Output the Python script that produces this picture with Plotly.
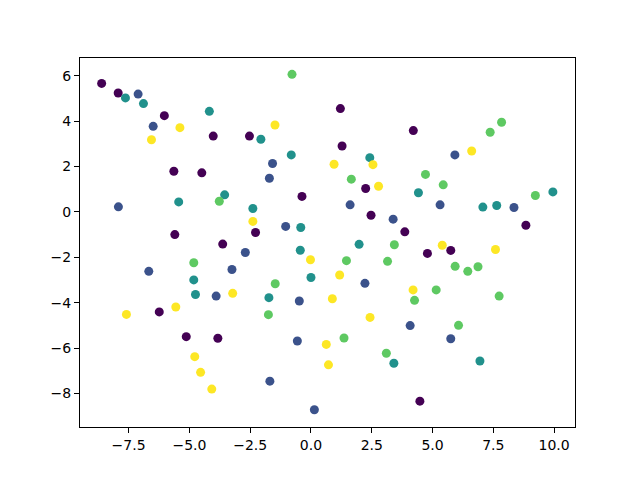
import plotly.graph_objects as go

# class 0 (purple), 1 (blue), 2 (teal), 3 (green), 4 (yellow)
x0 = [-8.61, -7.93, -6.03, -4.02, -2.53, -5.64, -4.49, -5.6, -3.63, 1.21, 1.28, 4.21, 2.25, -0.37, 2.47, 3.86, -2.28, 8.84, -6.24, -5.13, -3.83, 4.79, 5.75, 4.48]
y0 = [5.66, 5.24, 4.24, 3.34, 3.34, 1.79, 1.72, -1.0, -1.42, 4.55, 2.90, 3.58, 1.03, 0.68, -0.15, -0.88, -0.91, -0.59, -4.41, -5.50, -5.57, -1.83, -1.70, -8.34]

x1 = [-7.11, -6.49, -7.92, -1.58, -1.71, 1.61, 3.38, -1.04, 5.92, 5.31, 8.35, -2.70, -6.67, -3.25, -3.90, 2.22, -0.48, 4.08, -0.56, -1.69, 0.14, 5.75]
y1 = [5.19, 3.77, 0.22, 2.13, 1.48, 0.31, -0.32, -0.64, 2.51, 0.31, 0.19, -1.79, -2.62, -2.54, -3.71, -3.15, -3.93, -5.01, -5.69, -7.46, -8.72, -5.59]

x2 = [-7.63, -6.89, -4.18, -3.55, -5.44, -2.39, -2.06, -0.81, 2.42, 4.42, -0.42, 1.98, 7.07, 7.64, 9.95, -4.82, -4.75, -0.44, 0.0, -1.73, 3.41, 6.95]
y2 = [5.02, 4.77, 4.43, 0.75, 0.44, 0.15, 3.20, 2.51, 2.39, 0.84, -0.69, -1.43, 0.21, 0.28, 0.88, -3.00, -3.64, -1.69, -2.89, -3.78, -6.67, -6.57]

x3 = [-3.77, -0.78, 1.66, 3.43, 7.84, 7.37, 4.71, 5.44, 9.23, -4.82, 1.46, 3.15, -1.47, 4.26, -1.75, 1.36, 3.10, 5.93, 6.45, 6.87, 5.15, 7.74, 6.07]
y3 = [0.47, 6.06, 1.44, -1.45, 3.95, 3.51, 1.65, 1.19, 0.72, -2.24, -2.15, -2.18, -3.17, -3.90, -4.53, -5.56, -6.23, -2.40, -2.62, -2.42, -3.44, -3.71, -5.00]

x4 = [-5.39, -6.56, -2.39, -1.48, 2.55, 0.95, 2.78, 5.40, -3.22, -5.56, -7.59, -4.78, -4.54, -4.08, -0.02, 1.18, 0.88, 4.20, 2.43, 0.63, 0.72, 6.61, 7.59]
y4 = [3.71, 3.18, -0.42, 3.83, 2.08, 2.10, 1.13, -1.47, -3.59, -4.19, -4.52, -6.38, -7.07, -7.81, -2.11, -2.78, -3.83, -3.44, -4.65, -5.84, -6.74, 2.68, -1.66]

xs = [x0, x1, x2, x3, x4]
ys = [y0, y1, y2, y3, y4]
colors = ["#440154", "#3b528b", "#21918c", "#5ec962", "#fde725"]

fig = go.Figure()
for xv, yv, c in zip(xs, ys, colors):
    fig.add_trace(go.Scatter(x=xv, y=yv, mode="markers",
                             marker=dict(color=c, size=9, line=dict(width=0)),
                             showlegend=False))

axis_common = dict(showline=True, linecolor="black", linewidth=1, mirror=True,
                   ticks="outside", ticklen=5, tickcolor="black", tickwidth=1,
                   showgrid=False, zeroline=False,
                   tickfont=dict(family="DejaVu Sans", size=14, color="black"))

# page body has an 8px margin, so margins are shifted to compensate
fig.update_layout(
    width=640, height=480,
    margin=dict(l=72, r=73, t=50, b=61),
    paper_bgcolor="white", plot_bgcolor="white",
    xaxis=dict(range=[-9.50, 10.86], dtick=2.5, tick0=0, tickformat=".1f", **axis_common),
    yaxis=dict(range=[-9.48, 6.78], dtick=2, tick0=0, **axis_common),
)

fig.write_html("out.html")
